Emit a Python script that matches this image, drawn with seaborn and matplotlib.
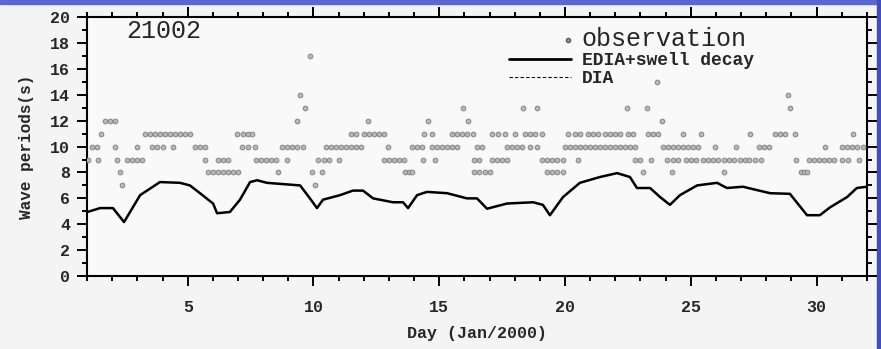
import numpy as np
import pandas as pd
import seaborn as sns
import matplotlib.pyplot as plt
from matplotlib.lines import Line2D
from matplotlib.patches import Rectangle
from matplotlib.legend_handler import HandlerLine2D

# EDIA+swell decay model wave period (day, seconds)
model_day = [1.0, 1.52, 2.03, 2.47, 3.11, 3.90, 4.70, 5.09, 5.49, 6.01, 6.17, 6.68,
             7.08, 7.48, 7.76, 8.15, 9.47, 9.86, 10.14, 10.38, 11.06, 11.57, 11.97,
             12.37, 13.16, 13.56, 13.76, 14.12, 14.51, 15.31, 16.10, 16.50, 16.90,
             17.69, 18.73, 19.12, 19.40, 19.92, 20.59, 21.39, 22.07, 22.58, 22.86,
             23.38, 23.78, 24.17, 24.57, 25.25, 26.04, 26.44, 27.07, 28.15, 28.94,
             29.62, 30.13, 30.53, 31.21, 31.60, 32.0]
model_period = [4.94, 5.25, 5.25, 4.17, 6.25, 7.26, 7.2, 7.0, 6.4, 5.6, 4.85, 4.95,
                5.9, 7.26, 7.4, 7.2, 7.0, 6.0, 5.25, 5.9, 6.25, 6.6, 6.6,
                6.0, 5.7, 5.7, 5.25, 6.25, 6.5, 6.4, 6.0, 6.0, 5.2,
                5.6, 5.7, 5.5, 4.7, 6.1, 7.2, 7.65, 7.95, 7.65, 6.8,
                6.8, 6.1, 5.5, 6.25, 7.0, 7.2, 6.8, 6.9, 6.4, 6.35,
                4.7, 4.7, 5.3, 6.1, 6.8, 6.9]

# buoy observations, grouped by the (integer) period they were reported at
obs_days_7 = [2.4, 10.06]
obs_days_8 = [2.3, 5.8, 6.0, 6.2, 6.4, 6.6, 6.8, 7.0, 8.6, 9.95, 10.35, 13.65, 13.8,
              13.92, 16.4, 16.6, 16.8, 17.0, 19.3, 19.5, 19.7, 19.9, 23.1, 24.25,
              26.3, 29.4, 29.5, 29.6]
obs_days_9 = [1.03, 1.45, 2.2, 2.6, 2.8, 3.0, 3.2, 5.7, 6.2, 6.4, 6.6, 7.7, 7.9, 8.1,
              8.3, 8.5, 8.95, 10.2, 10.4, 10.6, 11.0, 12.8, 13.0, 13.2, 13.4, 13.6,
              14.35, 14.83, 16.4, 16.6, 17.1, 17.3, 17.5, 17.7, 19.1, 19.3, 19.5,
              19.7, 19.9, 20.5, 22.8, 23.0, 23.4, 24.05, 24.3, 24.5, 24.8, 25.0,
              25.2, 25.5, 25.7, 25.9, 26.1, 26.3, 26.5, 26.7, 26.95, 27.15, 27.3,
              27.55, 27.8, 29.2, 29.7, 29.9, 30.1, 30.3, 30.5, 30.7, 31.0, 31.25, 31.7]
obs_days_10 = [1.2, 1.4, 2.1, 3.0, 3.6, 3.8, 4.0, 4.4, 5.3, 5.5, 5.7, 7.16, 7.4, 7.68,
               8.75, 8.95, 9.15, 9.35, 9.6, 10.5, 10.7, 10.9, 11.1, 11.3, 11.5, 11.7,
               11.9, 12.96, 13.9, 14.1, 14.3, 14.7, 14.9, 15.1, 15.3, 15.5, 15.7,
               16.5, 16.7, 17.7, 17.9, 18.1, 18.3, 18.6, 18.9, 20.0, 20.2, 20.4,
               20.6, 20.8, 21.0, 21.2, 21.4, 21.6, 21.8, 22.0, 22.2, 22.4, 22.6,
               22.8, 23.9, 24.1, 24.3, 24.5, 24.7, 24.9, 25.1, 25.3, 25.96, 26.8,
               27.7, 27.9, 28.1, 30.33, 31.0, 31.2, 31.4, 31.6, 31.85]
obs_days_11 = [1.55, 3.3, 3.5, 3.7, 3.9, 4.1, 4.3, 4.5, 4.7, 4.9, 5.1, 6.96, 7.2, 7.4,
               7.56, 11.5, 11.7, 12.0, 12.2, 12.4, 12.6, 12.8, 14.4, 14.7, 15.5,
               15.7, 15.9, 16.1, 16.35, 17.1, 17.35, 17.6, 18.0, 18.4, 18.6, 18.8,
               19.1, 20.1, 20.4, 20.6, 20.9, 21.1, 21.3, 21.6, 21.8, 22.0, 22.2,
               22.5, 22.7, 23.3, 23.5, 23.7, 24.7, 25.4, 27.35, 28.35, 28.55, 28.75,
               29.14, 31.45]
obs_days_12 = [1.7, 1.9, 2.1, 9.35, 12.17, 14.55, 16.14, 23.85]
obs_days_13 = [9.66, 15.94, 18.33, 18.88, 22.46, 23.26, 28.94]
obs_days_14 = [9.47, 28.86]
obs_days_15 = [23.65]
obs_days_17 = [9.86]

obs_groups = {7: obs_days_7, 8: obs_days_8, 9: obs_days_9, 10: obs_days_10,
              11: obs_days_11, 12: obs_days_12, 13: obs_days_13, 14: obs_days_14,
              15: obs_days_15, 17: obs_days_17}
obs = pd.DataFrame([(d, p) for p, days in obs_groups.items() for d in days],
                   columns=['day', 'period'])
model = pd.DataFrame({'day': model_day, 'period': model_period})


class RightMarkerHandler(HandlerLine2D):
    # single legend marker drawn at the right end of the handle box
    def get_xdata(self, legend, xdescent, ydescent, width, height, fontsize):
        xdata = np.array([-xdescent + 0.9 * width, -xdescent + width])
        return xdata, xdata[1:]


sns.set_style('ticks')
plt.rcParams['font.family'] = ['Liberation Mono', 'DejaVu Sans Mono']

fig = plt.figure(figsize=(8.81, 3.49), dpi=100, facecolor='#f4f4f4')
ax = fig.add_axes([0.0988, 0.209, 0.8852, 0.742])
ax.set_facecolor('#f9f9f9')

# slide background peeking in at the top and right
fig.patches.append(Rectangle((0, 1 - 4 / 349), 1, 4 / 349, transform=fig.transFigure,
                             color='#5a69cc', zorder=-1))
fig.patches.append(Rectangle((877 / 881, 0), 4 / 881, 1, transform=fig.transFigure,
                             color='#3f4fc0', zorder=-1))

sns.scatterplot(data=obs, x='day', y='period', ax=ax, marker='o', s=12,
                color='#b8b8b8', edgecolor='#7c7c7c', linewidth=0.6, zorder=3)
sns.lineplot(data=model, x='day', y='period', ax=ax, color='black', lw=1.8,
             zorder=4)

ax.set_xlim(1, 32)
ax.set_ylim(0, 20)
ax.set_xticks([5, 10, 15, 20, 25, 30])
ax.set_xticks(np.arange(1, 33), minor=True)
ax.set_yticks(np.arange(0, 21, 2))
ax.set_yticks(np.arange(0, 21, 1), minor=True)
ax.tick_params(which='both', direction='out', top=True, right=True, width=1.4,
               color='black')
ax.tick_params(which='major', length=7)
ax.tick_params(which='minor', length=3.5)
ax.tick_params(axis='x', which='major', pad=10, labelsize=12)
ax.tick_params(axis='y', which='major', pad=5, labelsize=12)
ax.tick_params(axis='y', which='both', right=True, labelright=False)
for lab in ax.get_yticklabels() + ax.get_xticklabels():
    lab.set_fontweight('bold')
for s in ax.spines.values():
    s.set_linewidth(1.5)
    s.set_color('black')

ax.set_xlabel('Day (Jan/2000)', fontsize=12, fontweight='bold', labelpad=8)
ax.set_ylabel('Wave periods(s)', fontsize=11.5, fontweight='bold', labelpad=12)

ax.text(0.05, 0.946, '21002', transform=ax.transAxes, fontsize=18,
        va='center', ha='left')

obs_handle = Line2D([], [], marker='o', ls='none', markersize=3,
                    markerfacecolor='#9a9a9a', markeredgecolor='#5a5a5a')
handles = [obs_handle,
           Line2D([], [], color='black', lw=2.0),
           Line2D([], [], color='black', lw=0.8, ls=(0, (3, 2)))]
leg = ax.legend(handles, ['observation', 'EDIA+swell decay', 'DIA'],
                loc='upper left', bbox_to_anchor=(0.53, 0.995), frameon=False,
                fontsize=13, handlelength=3.4, handletextpad=0.6,
                labelspacing=0.05, borderpad=0,
                handler_map={obs_handle: RightMarkerHandler(numpoints=1)})
leg.get_texts()[0].set_fontsize(18)
for t in leg.get_texts()[1:]:
    t.set_fontweight('bold')

fig.savefig('out.png', dpi=100, facecolor=fig.get_facecolor())
